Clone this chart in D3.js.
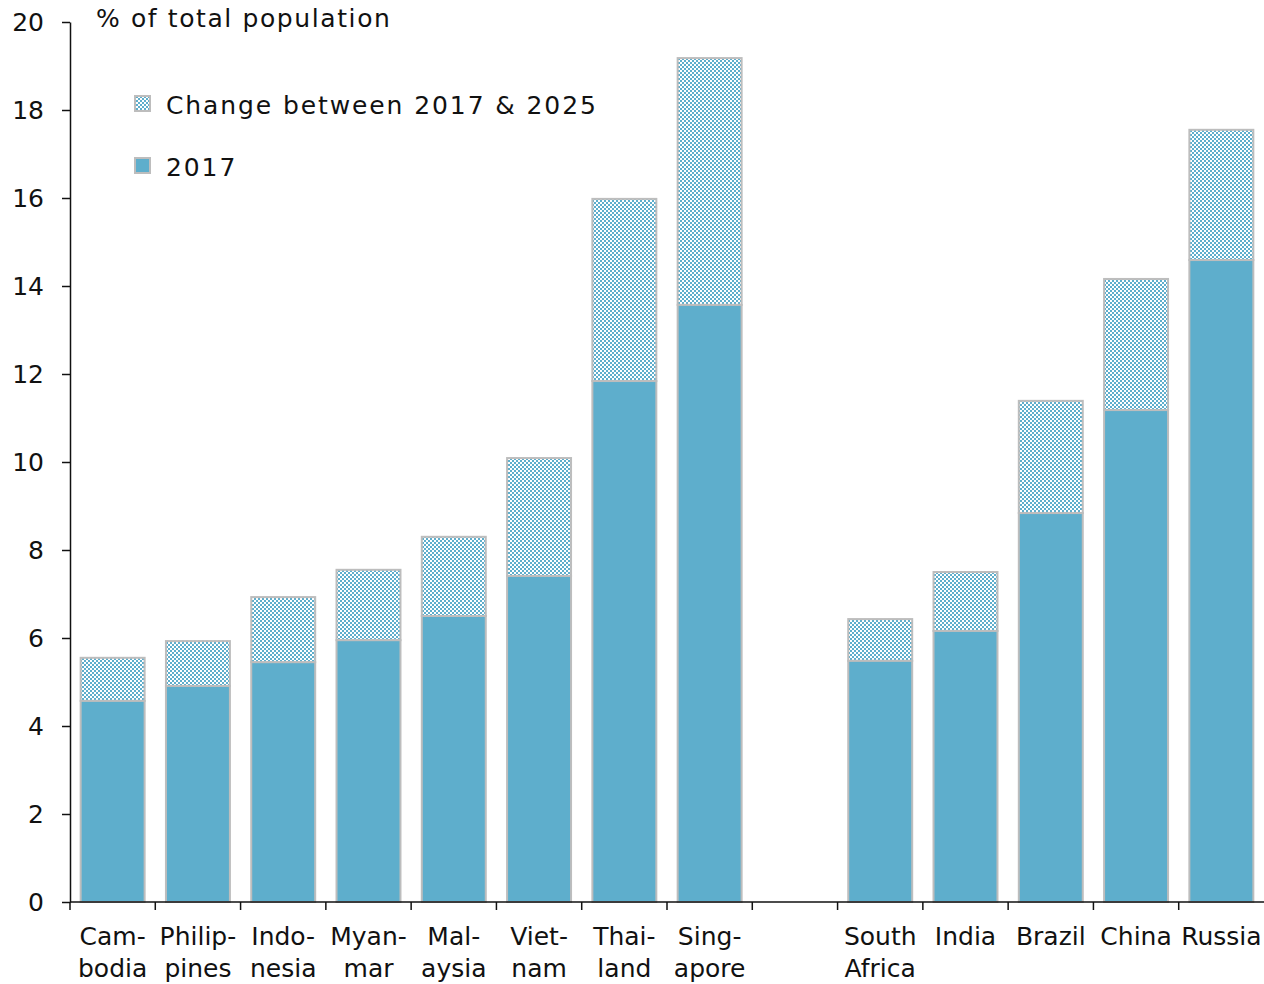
<!DOCTYPE html>
<html><head><meta charset="utf-8">
<script src="https://cdn.jsdelivr.net/npm/d3@7"></script>
<style>
body{margin:0;background:#fff;}
text{font-family:"DejaVu Sans",sans-serif;fill:#111;}
</style></head>
<body><svg id="c" width="1264" height="984"></svg>
<script>
const categories = ["Cam-|bodia","Philip-|pines","Indo-|nesia","Myan-|mar","Mal-|aysia","Viet-|nam","Thai-|land","Sing-|apore","","South|Africa","India","Brazil","China","Russia"];
const values2017 = [4.57,4.91,5.45,5.95,6.5,7.41,11.84,13.57,null,5.48,6.16,8.84,11.18,14.59];
const values2025 = [5.55,5.93,6.93,7.55,8.3,10.09,15.98,19.18,null,6.43,7.5,11.39,14.16,17.55];
const yTicks = [0,2,4,6,8,10,12,14,16,18,20];
const legendLabels = ["Change between 2017 & 2025","2017"];

(function(){
const FONT = "DejaVu Sans, sans-serif", FS = 25;
const svg = d3.select("#c");
const mLeft=70, mRight=1264, mTop=22, mBottom=902;
const x = d3.scaleBand().domain(d3.range(categories.length)).range([mLeft,mRight]).paddingInner(0.25).paddingOuter(0.125);
const y = d3.scaleLinear().domain([0,20]).range([mBottom,mTop]);
const blue="#5eaecc", border="#bdbdbd";

const defs = svg.append("defs");
const pat = defs.append("pattern").attr("id","chk").attr("patternUnits","userSpaceOnUse").attr("width",4).attr("height",4);
pat.append("rect").attr("width",4).attr("height",4).attr("fill","#fff");
pat.append("rect").attr("width",2).attr("height",2).attr("fill",blue);
pat.append("rect").attr("x",2).attr("y",2).attr("width",2).attr("height",2).attr("fill",blue);

const idx = d3.range(categories.length).filter(i=>values2017[i]!=null);
svg.append("g").selectAll("rect").data(idx).join("rect")
  .attr("x",i=>x(i)).attr("width",x.bandwidth())
  .attr("y",i=>y(values2025[i])).attr("height",i=>y(values2017[i])-y(values2025[i]))
  .attr("fill","url(#chk)").attr("stroke",border).attr("stroke-width",2);
svg.append("g").selectAll("rect").data(idx).join("rect")
  .attr("x",i=>x(i)).attr("width",x.bandwidth())
  .attr("y",i=>y(values2017[i])).attr("height",i=>y(0)-y(values2017[i]))
  .attr("fill",blue).attr("stroke",border).attr("stroke-width",2);

const ya = svg.append("g").attr("transform",`translate(${mLeft},0)`)
  .call(d3.axisLeft(y).tickValues(yTicks).tickSize(8).tickSizeOuter(0).tickPadding(18));
ya.select(".domain").attr("stroke","#111").attr("stroke-width",1.5);
ya.selectAll(".tick line").attr("stroke","#111").attr("stroke-width",1.5);
ya.selectAll(".tick text").attr("font-size",FS).attr("font-family",FONT).attr("fill","#111");

const step = x.step();
const xg = svg.append("g");
xg.append("line").attr("x1",mLeft).attr("x2",mRight).attr("y1",mBottom).attr("y2",mBottom).attr("stroke","#111").attr("stroke-width",1.5);
xg.selectAll("line.t").data(d3.range(categories.length)).join("line").attr("class","t")
  .attr("x1",i=>mLeft+i*step).attr("x2",i=>mLeft+i*step).attr("y1",mBottom).attr("y2",mBottom+8)
  .attr("stroke","#111").attr("stroke-width",1.5);
const lab = xg.selectAll("text").data(d3.range(categories.length)).join("text")
  .attr("text-anchor","middle").attr("font-size",FS)
  .attr("transform",i=>`translate(${x(i)+x.bandwidth()/2},0)`);
lab.each(function(i){
  const parts = categories[i].split("|");
  const t=d3.select(this);
  parts.forEach((p,k)=>t.append("tspan").attr("x",0).attr("y",945+k*32).text(p));
});

svg.append("text").attr("x",96).attr("y",27).attr("font-size",FS).attr("letter-spacing",1.6).text("% of total population");

const lg = svg.append("g");
lg.append("rect").attr("x",135).attr("y",96).attr("width",15).attr("height",15).attr("fill","url(#chk)").attr("stroke",border).attr("stroke-width",2);
lg.append("rect").attr("x",135).attr("y",158).attr("width",15).attr("height",15).attr("fill",blue).attr("stroke",border).attr("stroke-width",2);
lg.append("text").attr("x",166).attr("y",114).attr("font-size",FS).attr("letter-spacing",1.9).text(legendLabels[0]);
lg.append("text").attr("x",166).attr("y",176).attr("font-size",FS).attr("letter-spacing",1.9).text(legendLabels[1]);
})();
</script></body></html>
